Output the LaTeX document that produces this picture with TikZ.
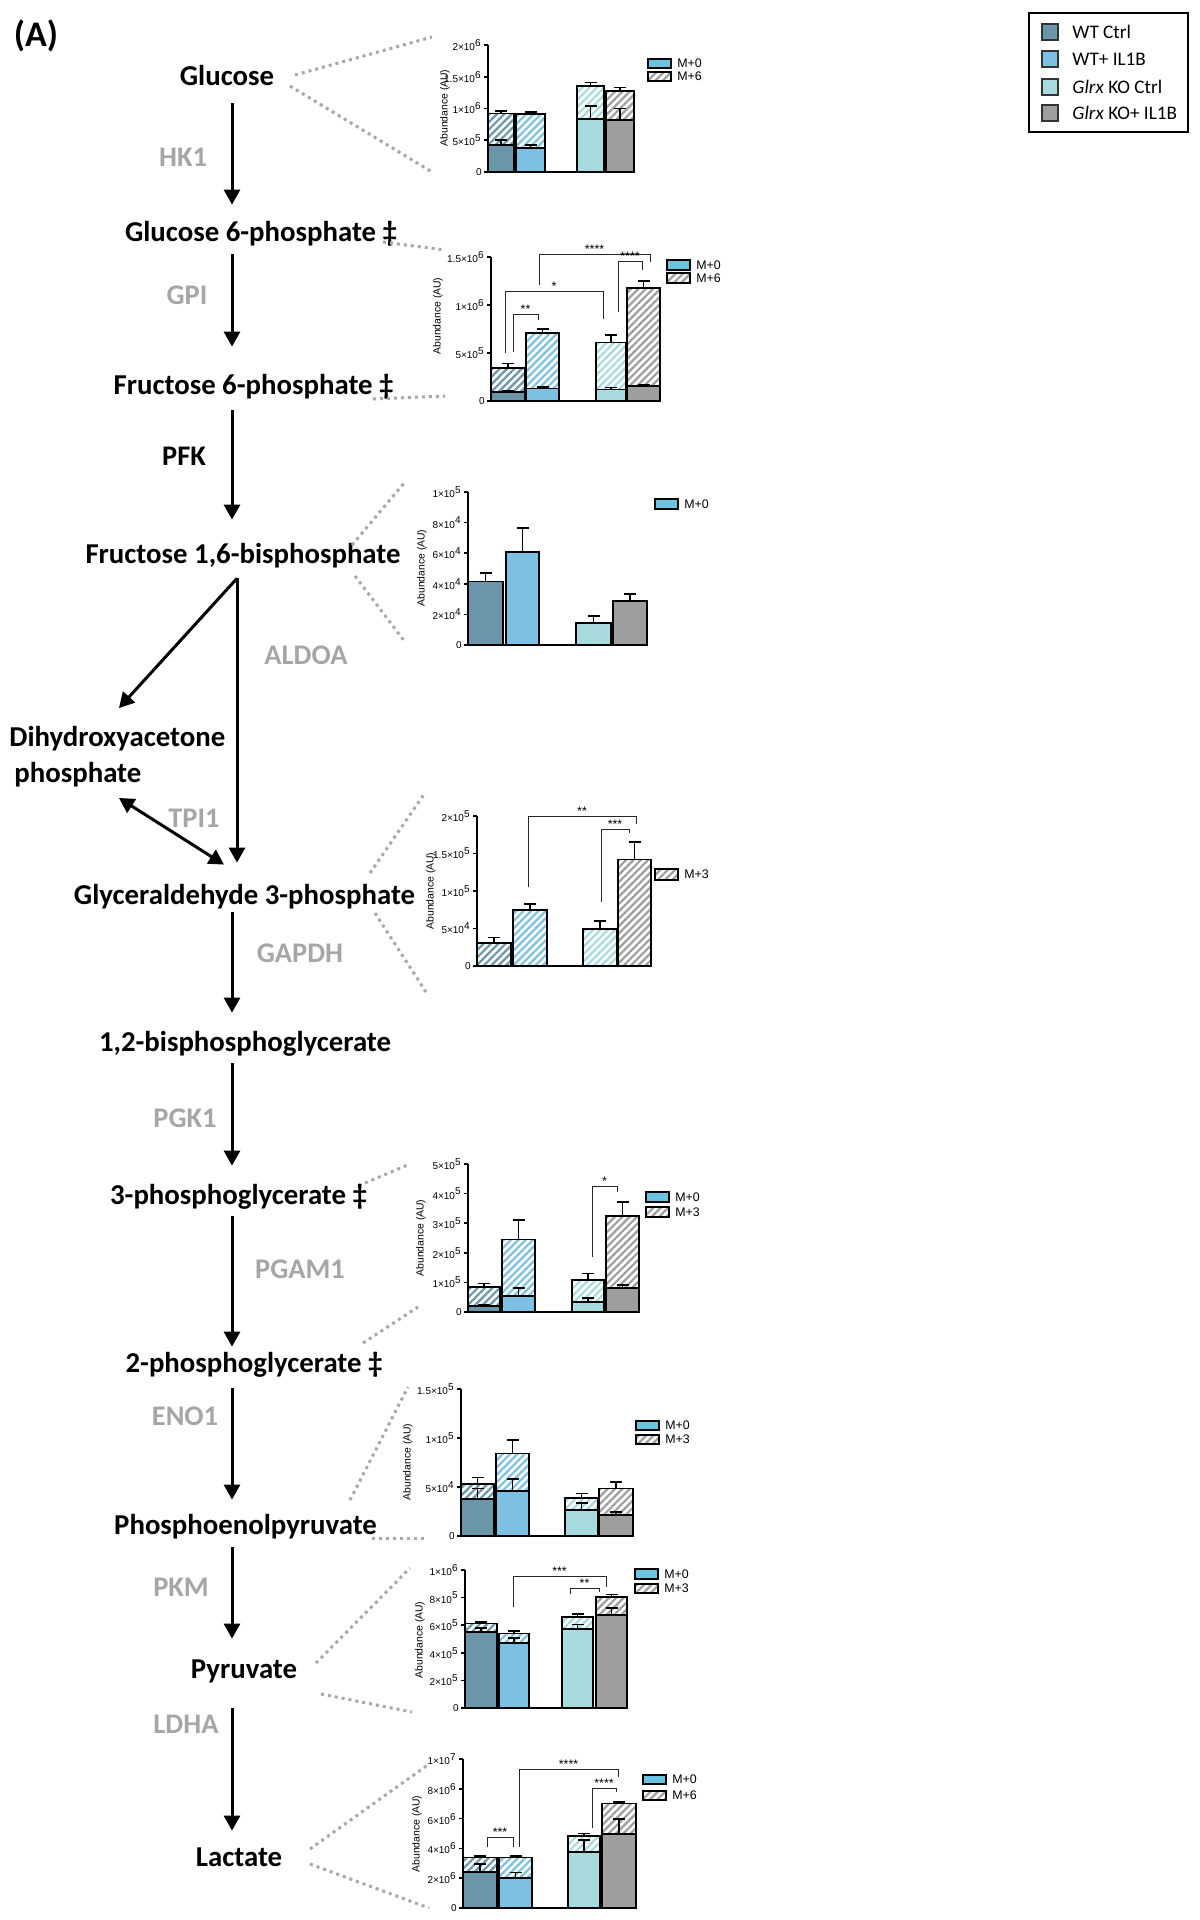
\documentclass[tikz,border=0pt]{standalone}
\usepackage{fontspec}
\setmainfont{Carlito}
\newfontfamily\chartfont{Liberation Sans}
\usetikzlibrary{arrows.meta,patterns.meta}

\definecolor{cA}{HTML}{6B96AA}
\definecolor{cB}{HTML}{7DC1E2}
\definecolor{cC}{HTML}{A8DBDD}
\definecolor{cD}{HTML}{9E9E9E}
\definecolor{mzero}{HTML}{6CC3DD}
\definecolor{enzgrey}{HTML}{A6A6A6}
\definecolor{dotgrey}{HTML}{A8A8A8}

\newcounter{nid}

\tikzset{
 met/.style={font=\fontsize{14.4}{17}\selectfont\bfseries, text height=10.5pt, text depth=3.5pt, inner sep=0pt},
 enz/.style={font=\fontsize{14.2}{17}\selectfont\bfseries, text=enzgrey, inner sep=0pt},
 arr/.style={line width=1.5pt, -{Triangle[width=8pt,length=7.5pt]}},
 darr/.style={line width=1.5pt, {Triangle[width=8pt,length=7.5pt]}-{Triangle[width=8pt,length=7.5pt]}},
 dots/.style={draw=dotgrey, line width=1.5pt, dash pattern=on 1.5pt off 2pt},
 barline/.style={draw=black, line width=0.9pt},
 axline/.style={draw=black, line width=0.8pt},
 errline/.style={draw=black, line width=0.9pt},
 brline/.style={draw=black!85, line width=0.5pt},
 hatch/.style={pattern={Lines[angle=45,distance=2.6pt,line width=1.1pt]}},
 ticklab/.style={font=\chartfont\fontsize{5}{6}\selectfont, inner sep=0pt, anchor=east},
 ylab/.style={font=\chartfont\fontsize{5.2}{6}\selectfont, inner sep=0pt, rotate=90},
 mlab/.style={font=\chartfont\fontsize{6.2}{7}\selectfont, inner sep=0pt, anchor=west},
 starlab/.style={font=\chartfont\fontsize{6.2}{7}\selectfont, inner sep=0pt, anchor=base},
 legtext/.style={font=\fontsize{9.6}{11}\selectfont, inner sep=0pt, anchor=west},
}

\newcommand{\setchart}[3]{\def\xa{#1}\def\yb{#2}\def\chsc{#3}}
\newcommand{\Y}[1]{\yb-#1*\chsc}
\newcommand{\sci}[2]{#1×10\textsuperscript{#2}}
\newcommand{\barS}[5]{\fill[#3] (#1,\Y{#4}) rectangle (#2,\Y{#5});
  \draw[barline] (#1,\Y{#4}) rectangle (#2,\Y{#5});}
\newcommand{\barH}[5]{\fill[white] (#1,\Y{#4}) rectangle (#2,\Y{#5});
  \fill[hatch,pattern color=#3] (#1,\Y{#4}) rectangle (#2,\Y{#5});
  \draw[barline] (#1,\Y{#4}) rectangle (#2,\Y{#5});}
\newcommand{\barE}[4]{\draw[errline] ({(#1+#2)/2},\Y{#3}) -- ({(#1+#2)/2},\Y{#4});
  \draw[errline] ({(#1+#2)/2-6},\Y{#4}) -- ({(#1+#2)/2+6},\Y{#4});}
\newcommand{\stk}[7]{\barS{#1}{#2}{#3}{0}{#4}\barH{#1}{#2}{#3}{#4}{#5}\barE{#1}{#2}{#5}{#6}\barE{#1}{#2}{#4}{#7}}
\newcommand{\sol}[5]{\barS{#1}{#2}{#3}{0}{#4}\barE{#1}{#2}{#4}{#5}}
\newcommand{\hch}[5]{\barH{#1}{#2}{#3}{0}{#4}\barE{#1}{#2}{#4}{#5}}
\newcommand{\axes}[2]{\draw[axline] (\xa,\Y{#1}) -- (\xa,\yb) -- (#2,\yb);}
\newcommand{\tk}[2]{\draw[axline] (\xa,\Y{#1}) -- (\xa-4,\Y{#1});
  \stepcounter{nid}\node[ticklab] (tk\arabic{nid}) at (\xa-6,\Y{#1}) {#2};}
\newcommand{\yaxlabel}[2]{\stepcounter{nid}\node[ylab] (yl\arabic{nid}) at (#1,#2) {Abundance (AU)};}
\newcommand{\lgS}[4]{\draw[barline, line width=0.6pt, fill=mzero] (#1,#2) rectangle ({#1+23},#3);
  \stepcounter{nid}\node[mlab] (lg\arabic{nid}) at ({#1+29},{(#2+#3)/2}) {#4};}
\newcommand{\lgH}[4]{\fill[white] (#1,#2) rectangle ({#1+23},#3);
  \fill[hatch,pattern color=cD] (#1,#2) rectangle ({#1+23},#3);
  \draw[barline, line width=0.6pt] (#1,#2) rectangle ({#1+23},#3);
  \stepcounter{nid}\node[mlab] (lg\arabic{nid}) at ({#1+29},{(#2+#3)/2}) {#4};}
\newcommand{\brk}[6]{\draw[brline] (#1,#2) -- (#1,#3) -- (#4,#3) -- (#4,#5);
  \stepcounter{nid}\node[starlab] (st\arabic{nid}) at ({(#1+#4)/2},{#3-1}) {#6};}

\begin{document}
\begin{tikzpicture}[x=0.5pt,y=-0.5pt]
\useasboundingbox (0,0) rectangle (1199,1920);
\fill[white] (0,0) rectangle (1199,1920);

% ---------- panel label ----------
\node[font=\fontsize{18}{21}\selectfont\bfseries, inner sep=0pt] (lblA) at (36,36) {(A)};

% ---------- metabolites ----------
\node[met] (glc) at (227,79) {Glucose};
\node[met] (g6p) at (261,235) {Glucose 6-phosphate ‡};
\node[met] (f6p) at (253.5,387) {Fructose 6-phosphate ‡};
\node[met] (f16) at (243,556) {Fructose 1,6-bisphosphate};
\node[font=\fontsize{14.4}{18}\selectfont\bfseries, inner sep=0pt, align=left, anchor=north west] (dhap) at (9,726) {Dihydroxyacetone\\\hspace*{2.5pt}phosphate};
\node[met] (ga3p) at (244.5,897) {Glyceraldehyde 3-phosphate};
\node[met] (bpg) at (245,1044) {1,2-bisphosphoglycerate};
\node[met] (pg3) at (238.5,1197) {3-phosphoglycerate ‡};
\node[met] (pg2) at (254,1365) {2-phosphoglycerate ‡};
\node[met] (pep) at (245.5,1527) {Phosphoenolpyruvate};
\node[met] (pyr) at (244,1671) {Pyruvate};
\node[met] (lac) at (239,1859) {Lactate};

% ---------- enzymes ----------
\node[enz] (hk1) at (183,157) {HK1};
\node[enz] (gpi) at (187,295) {GPI};
\node[enz,text=black] (pfk) at (184,456) {PFK};
\node[enz] (aldoa) at (306,655) {ALDOA};
\node[enz] (tpi1) at (194,818) {TPI1};
\node[enz] (gapdh) at (300,953) {GAPDH};
\node[enz] (pgk1) at (185,1118) {PGK1};
\node[enz] (pgam1) at (300,1269) {PGAM1};
\node[enz] (eno1) at (185,1416) {ENO1};
\node[enz] (pkm) at (181,1587) {PKM};
\node[enz] (ldha) at (186,1724) {LDHA};

% ---------- arrows ----------
\draw[arr] ([shift={(5,10)}]glc.south) -- ([shift={(-29,-16)}]g6p.north);
\draw[arr] ([shift={(-29,5)}]g6p.south) -- ([shift={(-21.5,-26)}]f6p.north);
\draw[arr] ([shift={(-21.5,9)}]f6p.south) -- ([shift={(-11,-22)}]f16.north);
\coordinate (br) at ([shift={(-6,8)}]f16.south);
\draw[arr] (br) -- ([shift={(-7.5,-20)}]ga3p.north);
\draw[arr] (br) -- ([shift={(110,-18)}]dhap.north west);
\draw[darr] ([shift={(110,72)}]dhap.north west) -- ([shift={(-20.5,-18)}]ga3p.north);
\draw[arr] ([shift={(-12.5,1)}]ga3p.south) -- ([shift={(-13,-17)}]bpg.north);
\draw[arr] ([shift={(-13,5)}]bpg.south) -- ([shift={(-6.5,-17)}]pg3.north);
\draw[arr] ([shift={(-6.5,5)}]pg3.south) -- ([shift={(-22,-4)}]pg2.north);
\draw[arr] ([shift={(-22,9)}]pg2.south) -- ([shift={(-13.5,-13)}]pep.north);
\draw[arr] ([shift={(-13.5,6)}]pep.south) -- ([shift={(-12,-18)}]pyr.north);
\draw[arr] ([shift={(-12,23)}]pyr.south) -- ([shift={(-7,-14)}]lac.north);

% ---------- dotted connectors ----------
\coordinate (d1a) at (432,37);   \coordinate (d1b) at (432,172);
\coordinate (d2) at (445,250);   \coordinate (d3) at (445,396);
\coordinate (d4a) at (405,482);  \coordinate (d4b) at (405,642);
\coordinate (d5a) at (425,793);  \coordinate (d5b) at (426,992);
\coordinate (d6) at (410,1164);  \coordinate (d7) at (418,1307);
\coordinate (d8a) at (408,1387); \coordinate (d8b) at (428,1538);
\coordinate (d9a) at (410,1568); \coordinate (d9b) at (412,1712);
\coordinate (d10a) at (429,1764); \coordinate (d10b) at (429,1908);
\draw[dots] ([shift={(68,-4)}]glc.center) -- (d1a);
\draw[dots] ([shift={(63,7)}]glc.center) -- (d1b);
\draw[dots] ([shift={(122,7)}]g6p.center) -- (d2);
\draw[dots] ([shift={(119.5,12)}]f6p.center) -- (d3);
\draw[dots] ([shift={(109,-11)}]f16.center) -- (d4a);
\draw[dots] ([shift={(112,20)}]f16.center) -- (d4b);
\draw[dots] ([shift={(125.5,-24)}]ga3p.center) -- (d5a);
\draw[dots] ([shift={(130.5,16)}]ga3p.center) -- (d5b);
\draw[dots] ([shift={(126.5,-14)}]pg3.center) -- (d6);
\draw[dots] ([shift={(109,-22)}]pg2.center) -- (d7);
\draw[dots] ([shift={(104.5,-27)}]pep.center) -- (d8a);
\draw[dots] ([shift={(126.5,11)}]pep.center) -- (d8b);
\draw[dots] ([shift={(72,-8)}]pyr.center) -- (d9a);
\draw[dots] ([shift={(77,23)}]pyr.center) -- (d9b);
\draw[dots] ([shift={(71,-10)}]lac.center) -- (d10a);
\draw[dots] ([shift={(71,5)}]lac.center) -- (d10b);

% ---------- chart 1: glucose ----------
\setchart{488}{172}{6.35}
\stk{488}{514}{cA}{4.3}{9.2}{9.6}{5.0}
\stk{516}{545}{cB}{3.8}{9.1}{9.4}{4.3}
\stk{577}{604}{cC}{8.3}{13.5}{14.1}{10.4}
\stk{606}{634}{cD}{8.2}{12.8}{13.3}{10.0}
\axes{20}{634}
\tk{0}{0}\tk{5}{\sci{5}{5}}\tk{10}{\sci{1}{6}}\tk{15}{\sci{1.5}{6}}\tk{20}{\sci{2}{6}}
\yaxlabel{445}{108}
\lgS{648}{59}{68}{M+0}\lgH{648}{72}{81}{M+6}

% ---------- chart 2: G6P ----------
\setchart{491}{401}{9.6}
\stk{491}{525}{cA}{0.94}{3.44}{3.9}{1.1}
\stk{526}{559}{cB}{1.3}{7.1}{7.5}{1.5}
\stk{596}{626}{cC}{1.2}{6.1}{6.9}{1.4}
\stk{627}{660}{cD}{1.56}{11.8}{12.5}{1.7}
\axes{15}{660}
\tk{0}{0}\tk{5}{\sci{5}{5}}\tk{10}{\sci{1}{6}}\tk{15}{\sci{1.5}{6}}
\yaxlabel{438}{316}
\brk{513}{352}{315}{538}{320}{**}
\brk{505}{353}{292}{603}{319}{*}
\brk{539}{285}{255}{650}{262}{****}
\brk{618}{312}{262}{642}{270}{****}
\lgS{667}{260}{270}{M+0}\lgH{667}{273}{283}{M+6}

% ---------- chart 3: F1,6BP ----------
\setchart{468}{645}{15.3}
\sol{468}{503}{cA}{4.15}{4.7}
\sol{506}{539}{cB}{6.07}{7.64}
\sol{576}{611}{cC}{1.42}{1.92}
\sol{613}{647}{cD}{2.88}{3.32}
\axes{10}{647}
\tk{0}{0}\tk{2}{\sci{2}{4}}\tk{4}{\sci{4}{4}}\tk{6}{\sci{6}{4}}\tk{8}{\sci{8}{4}}\tk{10}{\sci{1}{5}}
\yaxlabel{422}{568}
\lgS{655}{499}{509}{M+0}

% ---------- chart 4: GA3P ----------
\setchart{477}{966}{7.5}
\hch{477}{511}{cA}{3.1}{3.8}
\hch{513}{547}{cB}{7.5}{8.3}
\hch{583}{617}{cC}{4.9}{6.0}
\hch{618}{651}{cD}{14.2}{16.5}
\axes{20}{651}
\tk{0}{0}\tk{5}{\sci{5}{4}}\tk{10}{\sci{1}{5}}\tk{15}{\sci{1.5}{5}}\tk{20}{\sci{2}{5}}
\yaxlabel{431}{891}
\brk{528}{887}{816}{636}{824}{**}
\brk{601}{902}{829}{629}{833}{***}
\lgH{655}{869}{880}{M+3}

% ---------- chart 5: 3PG ----------
\setchart{468}{1312}{29.6}
\stk{468}{500}{cA}{0.19}{0.85}{0.96}{0.25}
\stk{502}{535}{cB}{0.54}{2.45}{3.1}{0.8}
\stk{572}{604}{cC}{0.34}{1.07}{1.3}{0.46}
\stk{606}{639}{cD}{0.82}{3.25}{3.72}{0.9}
\axes{5}{639}
\tk{0}{0}\tk{1}{\sci{1}{5}}\tk{2}{\sci{2}{5}}\tk{3}{\sci{3}{5}}\tk{4}{\sci{4}{5}}\tk{5}{\sci{5}{5}}
\yaxlabel{421}{1238}
\brk{592}{1257}{1186}{617}{1192}{*}
\lgS{646}{1192}{1202}{M+0}\lgH{646}{1207}{1217}{M+3}

% ---------- chart 6: PEP ----------
\setchart{461}{1536}{9.8}
\stk{461}{494}{cA}{3.75}{5.28}{5.97}{4.84}
\stk{496}{529}{cB}{4.57}{8.42}{9.78}{5.8}
\stk{565}{598}{cC}{2.69}{3.92}{4.33}{3.38}
\stk{599}{633}{cD}{2.18}{4.84}{5.52}{2.45}
\axes{15}{633}
\tk{0}{0}\tk{5}{\sci{5}{4}}\tk{10}{\sci{1}{5}}\tk{15}{\sci{1.5}{5}}
\yaxlabel{408}{1462}
\lgS{636}{1421}{1430}{M+0}\lgH{636}{1435}{1444}{M+3}

% ---------- chart 7: pyruvate ----------
\setchart{465}{1708}{13.8}
\stk{465}{497}{cA}{5.52}{6.13}{6.25}{5.81}
\stk{499}{529}{cB}{4.72}{5.4}{5.57}{5.08}
\stk{562}{593}{cC}{5.71}{6.61}{6.8}{6.05}
\stk{596}{627}{cD}{6.73}{8.06}{8.23}{7.26}
\axes{10}{627}
\tk{0}{0}\tk{2}{\sci{2}{5}}\tk{4}{\sci{4}{5}}\tk{6}{\sci{6}{5}}\tk{8}{\sci{8}{5}}\tk{10}{\sci{1}{6}}
\yaxlabel{420}{1640}
\brk{513}{1607}{1576}{606}{1587}{***}
\brk{570}{1594}{1588}{599}{1592}{**}
\lgS{635}{1569}{1579}{M+0}\lgH{635}{1584}{1593}{M+3}

% ---------- chart 8: lactate ----------
\setchart{463}{1908}{14.9}
\stk{463}{497}{cA}{2.42}{3.39}{3.5}{2.94}
\stk{499}{532}{cB}{2.04}{3.39}{3.5}{2.38}
\stk{568}{600}{cC}{3.77}{4.84}{5.0}{4.55}
\stk{602}{636}{cD}{4.96}{7.02}{7.13}{5.96}
\axes{10}{636}
\tk{0}{0}\tk{2}{\sci{2}{6}}\tk{4}{\sci{4}{6}}\tk{6}{\sci{6}{6}}\tk{8}{\sci{8}{6}}\tk{10}{\sci{1}{7}}
\yaxlabel{417}{1834}
\brk{487}{1847}{1837}{513}{1847}{***}
\brk{519}{1847}{1769}{618}{1777}{****}
\brk{592}{1828}{1788}{616}{1792}{****}
\lgS{643}{1775}{1784}{M+0}\lgH{643}{1791}{1800}{M+6}

% ---------- main legend ----------
\draw[line width=0.6pt] (1029,13) rectangle (1188,132);
\draw[line width=0.6pt, draw=black!80, fill=cA] (1042,24) rectangle (1058,40);
\draw[line width=0.6pt, draw=black!80, fill=cB] (1042,51) rectangle (1058,67);
\draw[line width=0.6pt, draw=black!80, fill=cC] (1042,79) rectangle (1058,95);
\draw[line width=0.6pt, draw=black!80, fill=cD] (1042,105) rectangle (1058,121);
\node[legtext] (lgA) at (1072,32) {WT Ctrl};
\node[legtext] (lgB) at (1072,59) {WT+ IL1B};
\node[legtext] (lgC) at (1072,87) {\textit{Glrx} KO Ctrl};
\node[legtext] (lgD) at (1072,113) {\textit{Glrx} KO+ IL1B};
\end{tikzpicture}
\end{document}
